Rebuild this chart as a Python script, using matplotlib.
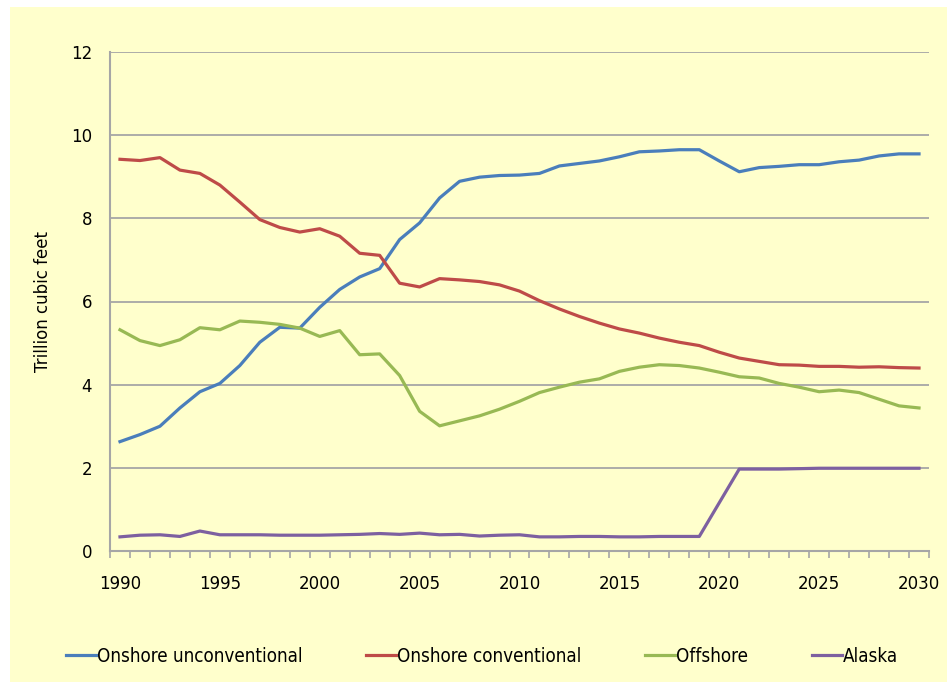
import numpy as np
import matplotlib
matplotlib.use('Agg')
import matplotlib.pyplot as plt
from matplotlib.patches import Rectangle

# data (trillion cubic feet)
years = list(range(1990, 2031))

onshore_unconv = [2.63, 2.80, 3.00, 3.44, 3.83, 4.03, 4.46, 5.02, 5.38, 5.36,
                  5.86, 6.29, 6.59, 6.79, 7.49, 7.89, 8.49, 8.89, 8.99, 9.03,
                  9.04, 9.08, 9.26, 9.32, 9.38, 9.48, 9.60, 9.62, 9.65, 9.65,
                  9.38, 9.12, 9.22, 9.25, 9.29, 9.29, 9.36, 9.40, 9.50, 9.55,
                  9.55]

onshore_conv = [9.42, 9.39, 9.46, 9.16, 9.08, 8.80, 8.39, 7.97, 7.78, 7.67,
                7.75, 7.57, 7.16, 7.11, 6.44, 6.35, 6.55, 6.52, 6.48, 6.40,
                6.25, 6.02, 5.82, 5.64, 5.48, 5.34, 5.24, 5.12, 5.02, 4.94,
                4.78, 4.64, 4.56, 4.48, 4.47, 4.44, 4.44, 4.42, 4.43, 4.41,
                4.40]

offshore = [5.32, 5.06, 4.94, 5.08, 5.37, 5.32, 5.53, 5.50, 5.45, 5.36,
            5.16, 5.30, 4.72, 4.74, 4.22, 3.36, 3.01, 3.13, 3.25, 3.41,
            3.60, 3.81, 3.94, 4.06, 4.14, 4.32, 4.42, 4.48, 4.46, 4.40,
            4.30, 4.19, 4.16, 4.03, 3.94, 3.83, 3.87, 3.81, 3.65, 3.49,
            3.44]

alaska = [0.34, 0.38, 0.39, 0.35, 0.48, 0.39, 0.39, 0.39, 0.38, 0.38,
          0.38, 0.39, 0.40, 0.42, 0.40, 0.43, 0.39, 0.40, 0.36, 0.38,
          0.39, 0.34, 0.34, 0.35, 0.35, 0.34, 0.34, 0.35, 0.35, 0.35,
          1.16, 1.97, 1.97, 1.97, 1.98, 1.99, 1.99, 1.99, 1.99, 1.99,
          1.99]

series = [("Onshore unconventional", onshore_unconv, "#4A7EBB"),
          ("Onshore conventional", onshore_conv, "#BE4B48"),
          ("Offshore", offshore, "#98B954"),
          ("Alaska", alaska, "#7D60A0")]

bg = "#FFFFCC"
grid_col = "#A6A6A6"

W, H = 947, 682
fig = plt.figure(figsize=(W / 100, H / 100), dpi=100, facecolor="white")
fig.patches.append(Rectangle((10 / W, 0), (W - 10) / W, (H - 7) / H,
                             transform=fig.transFigure, facecolor=bg,
                             edgecolor="none", zorder=-10))

ax = fig.add_axes([110 / W, (H - 551) / H, 819 / W, 499 / H])
ax.set_facecolor(bg)

x = np.arange(len(years))
for name, vals, col in series:
    ax.plot(x, vals, color=col, lw=2.3, label=name, solid_joinstyle="round")

ax.set_xlim(-0.5, len(years) - 0.5)
ax.set_ylim(0, 12)
ax.set_yticks(range(0, 13, 2))
ax.yaxis.grid(True, color=grid_col, lw=1.3)
ax.set_axisbelow(True)

ax.set_xticks(x[::5])
ax.set_xticklabels([str(y) for y in years[::5]])
ax.set_xticks(np.arange(-0.5, len(years), 1), minor=True)
ax.tick_params(axis="x", which="major", length=0, pad=17, labelsize=12)
ax.tick_params(axis="x", which="minor", length=5, width=1.2, color=grid_col)
ax.tick_params(axis="y", length=0, pad=13, labelsize=12)

for s in ["top", "right"]:
    ax.spines[s].set_visible(False)
for s in ["left", "bottom"]:
    ax.spines[s].set_color(grid_col)
    ax.spines[s].set_linewidth(1.5)

ax.set_ylabel("Trillion cubic feet", fontsize=12, labelpad=14)
ax.yaxis.set_label_coords(-58 / 819, 0.5)

leg = fig.legend(loc="center", bbox_to_anchor=(482 / W, (H - 656) / H), ncol=4,
                 frameon=False, fontsize=13.5, handlelength=1.6,
                 handletextpad=0.05, columnspacing=3.4)
for t in leg.get_texts():
    t.set_fontstretch("condensed")

fig.savefig("out.png", dpi=100, facecolor="white")
